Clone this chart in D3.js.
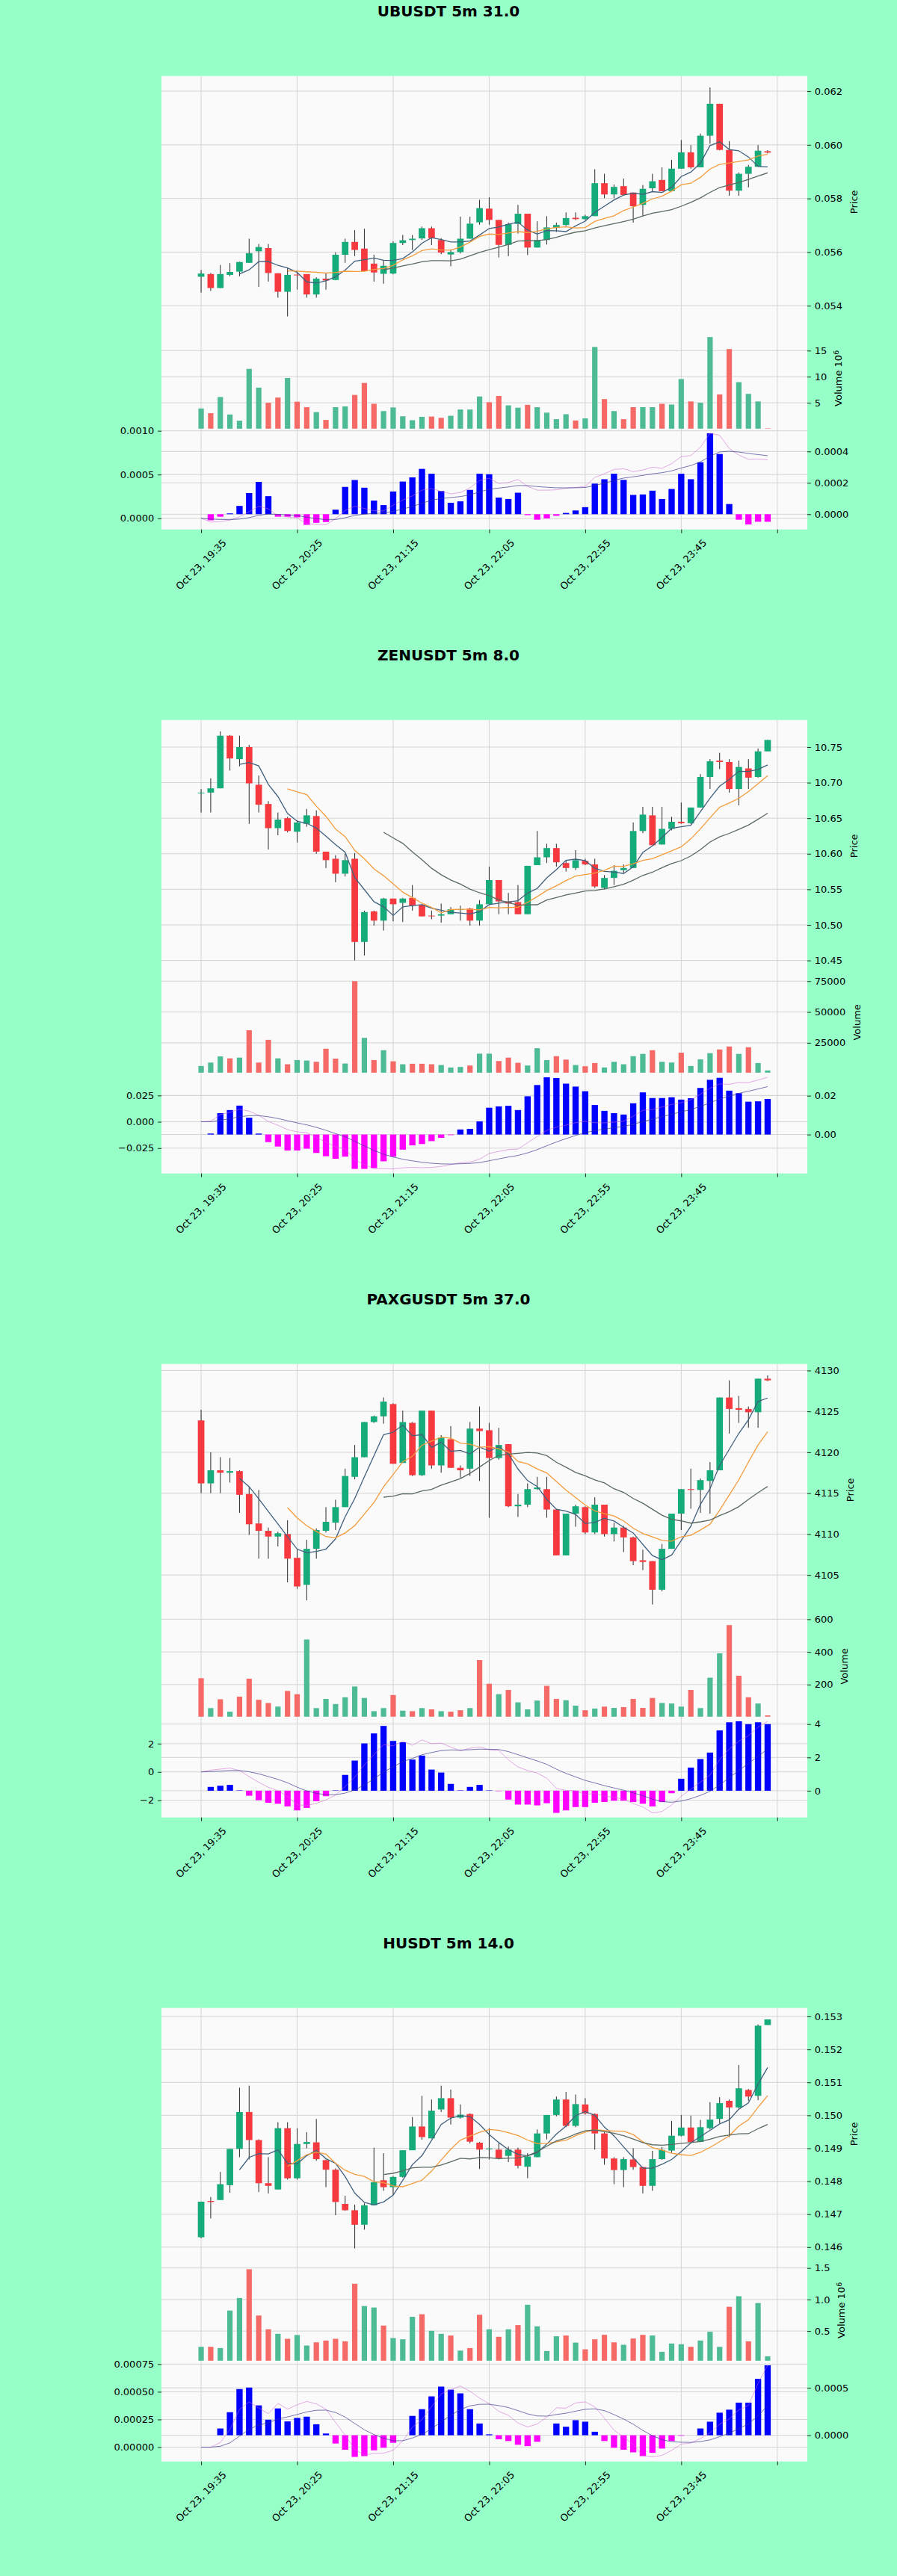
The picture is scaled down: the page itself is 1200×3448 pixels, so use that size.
<!DOCTYPE html>
<html>
<head>
<meta charset="utf-8">
<script src="https://cdn.jsdelivr.net/npm/d3@7"></script>
<style>
  body { margin: 0; background: #96ffc8; }
  svg { display: block; }
</style>
</head>
<body>
<div id="chart"></div>
<script>
/**************************************************************************************************/
// data: one row per 5m candle = [open, high, low, close]
const ubusdtOhlc = [
  [0.05508,0.05533,0.05449,0.05520],[0.05518,0.05522,0.05455,0.05466],[0.05466,0.05552,0.05466,0.05518],
  [0.05515,0.05559,0.05510,0.05526],[0.05527,0.05564,0.05510,0.05563],[0.05560,0.05650,0.05560,0.05596],
  [0.05603,0.05630,0.05470,0.05619],[0.05615,0.05630,0.05490,0.05522],[0.05521,0.05521,0.05430,0.05452],
  [0.05452,0.05540,0.05360,0.05515],[0.05516,0.05530,0.05460,0.05514],[0.05518,0.05518,0.05430,0.05442],
  [0.05442,0.05506,0.05430,0.05501],[0.05501,0.05520,0.05460,0.05494],[0.05496,0.05599,0.05495,0.05590],
  [0.05590,0.05650,0.05560,0.05638],[0.05638,0.05682,0.05585,0.05608],[0.05613,0.05687,0.05529,0.05529],
  [0.05557,0.05590,0.05490,0.05524],[0.05519,0.05570,0.05482,0.05549],[0.05520,0.05640,0.05517,0.05634],
  [0.05634,0.05664,0.05626,0.05644],[0.05645,0.05664,0.05608,0.05650],[0.05651,0.05695,0.05645,0.05689],
  [0.05689,0.05695,0.05626,0.05652],[0.05645,0.05652,0.05592,0.05598],[0.05591,0.05610,0.05547,0.05600],
  [0.05600,0.05732,0.05595,0.05650],[0.05650,0.05732,0.05650,0.05706],[0.05711,0.05795,0.05702,0.05764],
  [0.05762,0.05804,0.05702,0.05720],[0.05720,0.05720,0.05580,0.05627],[0.05627,0.05710,0.05585,0.05704],
  [0.05705,0.05776,0.05669,0.05743],[0.05743,0.05743,0.05589,0.05617],[0.05617,0.05715,0.05617,0.05645],
  [0.05645,0.05734,0.05628,0.05692],[0.05690,0.05710,0.05675,0.05701],[0.05701,0.05748,0.05697,0.05727],
  [0.05728,0.05748,0.05719,0.05723],[0.05723,0.05739,0.05719,0.05734],[0.05734,0.05909,0.05734,0.05857],
  [0.05857,0.05892,0.05801,0.05815],[0.05815,0.05852,0.05801,0.05843],[0.05846,0.05874,0.05813,0.05813],
  [0.05822,0.05822,0.05710,0.05771],[0.05776,0.05850,0.05734,0.05836],[0.05838,0.05892,0.05827,0.05864],
  [0.05869,0.05916,0.05827,0.05827],[0.05827,0.05944,0.05827,0.05911],[0.05911,0.06018,0.05911,0.05972],
  [0.05972,0.05999,0.05911,0.05916],[0.05916,0.06042,0.05916,0.06034],[0.06034,0.06214,0.06004,0.06153],
  [0.06153,0.06153,0.05979,0.05981],[0.05981,0.06014,0.05810,0.05829],[0.05829,0.05897,0.05810,0.05892],
  [0.05892,0.05925,0.05841,0.05918],[0.05918,0.05999,0.05918,0.05978],[0.05976,0.05980,0.05968,0.05971]
];
const ubusdtVolume = [3900000,3000000,6100000,2750000,1550000,11500000,7900000,5000000,6000000,9750000,
  5200000,4150000,3200000,1700000,4150000,4300000,6500000,8800000,4800000,3400000,
  4100000,2400000,1650000,2300000,2350000,2100000,2500000,3700000,3700000,6200000,
  5100000,6300000,4500000,4050000,4600000,4150000,3100000,1850000,2800000,1600000,
  2000000,15700000,5700000,3400000,1850000,4150000,4150000,4150000,4800000,4650000,
  9550000,5250000,5000000,17600000,6600000,15300000,8950000,6700000,5250000,80000];
const ubusdtHist = [0,-0.000039,-0.000016,0.000005,0.000053,0.000135,0.000206,0.000115,-0.000016,-0.000016,
  -0.00002,-0.000068,-0.000055,-0.00005,0.000029,0.000174,0.000218,0.000169,0.000087,0.000058,
  0.000145,0.000208,0.000235,0.000289,0.000258,0.000148,0.000073,0.000082,0.000155,0.000258,
  0.000255,0.000106,0.000097,0.000137,-0.000006,-0.000035,-0.000027,-0.00001,0.000008,0.000024,
  0.000045,0.000195,0.000223,0.000258,0.000219,0.000123,0.000126,0.00015,0.000097,0.000161,
  0.000258,0.000223,0.000331,0.000516,0.000384,0.000065,-0.000035,-0.000065,-0.000048,-0.000048];

const zenusdtOhlc = [
  [10.685,10.691,10.658,10.686],[10.686,10.706,10.658,10.692],[10.692,10.772,10.692,10.766],
  [10.766,10.767,10.717,10.734],[10.733,10.766,10.723,10.750],[10.750,10.753,10.642,10.699],
  [10.697,10.710,10.658,10.669],[10.670,10.674,10.606,10.636],[10.636,10.658,10.626,10.648],
  [10.650,10.652,10.630,10.632],[10.631,10.647,10.616,10.644],[10.642,10.663,10.638,10.654],
  [10.653,10.661,10.600,10.603],[10.603,10.603,10.580,10.591],[10.593,10.598,10.560,10.572],
  [10.572,10.600,10.568,10.591],[10.593,10.601,10.450,10.476],[10.476,10.520,10.457,10.518],
  [10.519,10.520,10.499,10.506],[10.506,10.538,10.492,10.537],[10.537,10.537,10.505,10.529],
  [10.531,10.538,10.504,10.537],[10.538,10.556,10.520,10.527],[10.528,10.529,10.512,10.512],
  [10.513,10.520,10.508,10.512],[10.513,10.530,10.503,10.515],[10.515,10.525,10.515,10.522],
  [10.521,10.527,10.506,10.522],[10.523,10.524,10.499,10.506],[10.506,10.535,10.499,10.529],
  [10.529,10.582,10.529,10.563],[10.563,10.563,10.515,10.533],[10.533,10.545,10.515,10.530],
  [10.532,10.556,10.515,10.515],[10.515,10.583,10.515,10.583],[10.584,10.632,10.584,10.595],
  [10.595,10.614,10.587,10.608],[10.608,10.614,10.582,10.588],[10.587,10.591,10.575,10.580],
  [10.580,10.605,10.577,10.591],[10.590,10.593,10.584,10.585],[10.585,10.593,10.552,10.554],
  [10.552,10.570,10.550,10.566],[10.566,10.584,10.556,10.576],[10.577,10.585,10.573,10.580],
  [10.580,10.644,10.580,10.632],[10.632,10.666,10.629,10.655],[10.654,10.666,10.612,10.612],
  [10.613,10.666,10.613,10.635],[10.635,10.652,10.633,10.645],[10.645,10.672,10.642,10.643],
  [10.643,10.665,10.642,10.665],[10.665,10.712,10.665,10.708],[10.708,10.733,10.691,10.730],
  [10.731,10.742,10.719,10.729],[10.729,10.733,10.686,10.691],[10.691,10.731,10.668,10.722],
  [10.720,10.733,10.691,10.707],[10.708,10.748,10.707,10.744],[10.744,10.760,10.744,10.760]
];
const zenusdtVolume = [6200,9000,14000,12400,13000,35200,9000,27400,12400,7600,
  11000,10600,9600,20200,12200,8200,75000,29000,11000,19000,
  10000,7600,8000,8000,7600,7000,5000,5400,6600,16200,
  16200,10200,13000,8800,6600,20600,11000,14200,11400,7000,
  6000,8600,5000,9600,7600,14200,16000,19000,9600,9000,
  17000,6200,11600,16600,19600,22000,16000,21400,8600,2600];
const zenusdtHist = [0,0.0005,0.011,0.0126,0.0149,0.0087,0.0005,-0.0039,-0.0062,-0.0082,
  -0.0082,-0.0073,-0.0095,-0.0112,-0.0125,-0.0114,-0.0177,-0.0177,-0.0173,-0.0138,
  -0.0114,-0.0078,-0.0056,-0.0049,-0.0034,-0.0017,-0.0003,0.0026,0.0029,0.0068,
  0.0138,0.0145,0.0148,0.0126,0.0197,0.0255,0.0295,0.0291,0.0262,0.0247,
  0.0223,0.0152,0.0122,0.011,0.0103,0.0161,0.0217,0.0188,0.0188,0.0192,
  0.018,0.0187,0.024,0.0282,0.0292,0.0226,0.0213,0.0169,0.0171,0.0183];

const paxgusdtOhlc = [
  [4123.9,4125.2,4115.0,4116.2],[4116.2,4120.0,4115.0,4117.8],[4117.8,4119.4,4115.0,4117.5],
  [4117.5,4119.3,4116.3,4117.7],[4117.7,4117.8,4112.6,4114.8],[4114.9,4115.7,4109.9,4111.2],
  [4111.3,4115.4,4107.0,4110.4],[4110.4,4110.8,4107.0,4109.7],[4109.7,4110.3,4108.5,4110.1],
  [4110.0,4111.7,4104.1,4107.0],[4107.1,4108.2,4103.3,4103.6],[4103.8,4109.3,4101.9,4108.2],
  [4108.2,4110.7,4107.0,4110.5],[4110.4,4113.3,4110.2,4111.5],[4111.4,4114.2,4110.5,4113.3],
  [4113.3,4118.0,4113.3,4117.1],[4117.0,4120.9,4116.7,4119.4],[4119.4,4123.7,4119.4,4123.7],
  [4123.7,4124.5,4123.6,4124.4],[4124.4,4126.7,4123.5,4126.2],[4125.9,4126.0,4118.6,4118.6],
  [4118.7,4125.1,4118.7,4123.7],[4123.6,4123.7,4117.1,4117.2],[4117.2,4125.1,4117.1,4125.1],
  [4125.1,4125.1,4118.0,4118.4],[4118.4,4122.1,4117.5,4121.8],[4121.6,4123.2,4118.1,4118.1],
  [4118.1,4118.4,4116.9,4117.8],[4118.0,4123.7,4117.1,4122.9],[4122.9,4125.6,4116.5,4122.6],
  [4122.7,4123.6,4112.0,4119.3],[4119.3,4123.0,4119.1,4120.9],[4121.0,4121.0,4113.3,4113.4],
  [4113.4,4114.9,4112.1,4113.6],[4113.6,4116.2,4113.3,4115.5],[4115.5,4117.0,4115.4,4115.7],
  [4115.5,4117.0,4112.0,4113.0],[4113.0,4113.1,4107.4,4107.4],[4107.4,4112.5,4107.4,4112.5],
  [4112.5,4113.6,4110.9,4113.4],[4113.3,4113.4,4110.0,4110.2],[4110.2,4114.5,4110.0,4113.6],
  [4113.6,4113.6,4109.7,4110.0],[4110.0,4111.4,4109.1,4110.8],[4110.8,4111.0,4107.8,4109.6],
  [4109.6,4109.7,4106.2,4106.7],[4106.8,4108.1,4105.6,4106.6],[4106.7,4106.7,4101.4,4103.2],
  [4103.2,4108.8,4103.0,4108.2],[4108.2,4112.5,4108.2,4112.5],[4112.5,4115.5,4110.5,4115.5],
  [4115.5,4118.0,4113.1,4115.4],[4115.4,4116.8,4112.6,4116.6],[4116.5,4118.8,4112.5,4117.8],
  [4117.8,4126.7,4117.8,4126.7],[4126.7,4128.8,4122.3,4125.3],[4125.4,4126.9,4123.6,4125.2],
  [4125.3,4125.6,4123.0,4124.9],[4124.9,4129.0,4123.0,4129.0],[4129.0,4129.4,4128.7,4128.8]
];
const paxgusdtVolume = [239,56,110,34,126,236,107,87,65,161,
  141,476,56,112,81,122,188,118,37,56,
  136,40,37,56,48,37,34,43,56,350,
  205,141,167,91,48,102,192,112,104,71,
  43,53,65,57,62,112,57,118,87,84,
  65,167,56,242,391,564,254,122,84,11];
const paxgusdtHist = [0,0.23,0.30,0.35,0.02,-0.30,-0.57,-0.72,-0.78,-0.94,
  -1.18,-1.03,-0.63,-0.33,0.02,0.95,1.81,2.84,3.44,3.89,
  2.99,2.91,1.87,2.11,1.27,1.09,0.41,0.02,0.23,0.35,
  0.02,-0.02,-0.53,-0.83,-0.83,-0.88,-0.75,-1.33,-1.18,-0.98,
  -0.98,-0.72,-0.68,-0.60,-0.60,-0.68,-0.78,-0.94,-0.68,-0.15,
  0.72,1.39,1.90,2.29,3.62,4.11,4.17,4.00,4.11,4.00];

const husdtOhlc = [
  [0.14630,0.14738,0.14627,0.14738],[0.14740,0.14752,0.14687,0.14737],[0.14743,0.14828,0.14743,0.14791],
  [0.14788,0.14898,0.14765,0.14898],[0.14898,0.15084,0.14873,0.15010],[0.15010,0.15090,0.14866,0.14925],
  [0.14925,0.14927,0.14767,0.14794],[0.14794,0.14873,0.14763,0.14786],[0.14775,0.14979,0.14775,0.14961],
  [0.14961,0.14979,0.14805,0.14809],[0.14809,0.14961,0.14805,0.14913],[0.14913,0.14949,0.14900,0.14919],
  [0.14918,0.14989,0.14862,0.14867],[0.14864,0.14866,0.14782,0.14835],[0.14835,0.14839,0.14697,0.14737],
  [0.14731,0.14756,0.14710,0.14712],[0.14712,0.14729,0.14596,0.14668],[0.14668,0.14733,0.14653,0.14727],
  [0.14727,0.14902,0.14727,0.14797],[0.14803,0.14885,0.14771,0.14782],[0.14782,0.14816,0.14758,0.14813],
  [0.14813,0.14894,0.14811,0.14894],[0.14894,0.14995,0.14894,0.14966],[0.14966,0.15059,0.14926,0.14934],
  [0.14930,0.15048,0.14930,0.15014],[0.15018,0.15090,0.15010,0.15052],[0.15052,0.15078,0.14972,0.14993],
  [0.14993,0.15033,0.14990,0.15002],[0.15004,0.15006,0.14915,0.14920],[0.14917,0.14919,0.14837,0.14896],
  [0.14897,0.14961,0.14866,0.14899],[0.14896,0.14915,0.14866,0.14869],[0.14877,0.14905,0.14858,0.14896],
  [0.14896,0.14902,0.14839,0.14847],[0.14844,0.14885,0.14809,0.14875],[0.14873,0.14957,0.14873,0.14945],
  [0.14945,0.15001,0.14927,0.15001],[0.15001,0.15057,0.14997,0.15048],[0.15048,0.15071,0.14964,0.14968],
  [0.14968,0.15063,0.14964,0.15034],[0.15033,0.15052,0.15002,0.15006],[0.15004,0.15006,0.14896,0.14945],
  [0.14945,0.14949,0.14850,0.14869],[0.14869,0.14873,0.14791,0.14834],[0.14834,0.14873,0.14782,0.14867],
  [0.14866,0.14900,0.14835,0.14843],[0.14843,0.14844,0.14763,0.14786],[0.14786,0.14892,0.14771,0.14867],
  [0.14867,0.14904,0.14865,0.14895],[0.14893,0.14983,0.14887,0.14938],[0.14938,0.15001,0.14936,0.14963],
  [0.14963,0.14999,0.14915,0.14919],[0.14919,0.14986,0.14919,0.14964],[0.14961,0.15040,0.14957,0.14987],
  [0.14989,0.15055,0.14976,0.15037],[0.15044,0.15048,0.14934,0.15024],[0.15024,0.15153,0.15021,0.15082],
  [0.15077,0.15080,0.15044,0.15057],[0.15059,0.15276,0.15046,0.15272],[0.15274,0.15291,0.15274,0.15291]
];
const husdtVolume = [250000,250000,230000,825000,1024000,1480000,746000,528000,456000,377000,
  437000,270000,321000,349000,377000,337000,1250000,897000,873000,587000,
  389000,369000,726000,766000,504000,456000,429000,190000,230000,758000,
  528000,409000,528000,595000,917000,575000,183000,417000,429000,317000,
  210000,369000,440000,321000,282000,381000,440000,429000,171000,302000,
  290000,250000,349000,488000,250000,885000,1052000,337000,944000,100000];
const husdtHist = [0,0,0.0000714,0.000243,0.000487,0.000503,0.000315,0.000164,0.000283,0.000146,
  0.000183,0.000196,0.000116,0.0000185,-0.0000873,-0.000153,-0.000228,-0.00022,-0.000159,-0.000132,
  -0.0000794,0,0.000204,0.000275,0.00041,0.000513,0.000481,0.000442,0.000275,0.000124,
  0.00001,-0.0000423,-0.0000608,-0.0001,-0.000114,-0.0000688,0,0.000124,0.00009,0.000159,
  0.000143,0.000037,-0.0000608,-0.000132,-0.000153,-0.00018,-0.00022,-0.000185,-0.00014,-0.0000608,
  -0.000005,0,0.0000714,0.000143,0.000238,0.00027,0.000344,0.000344,0.000595,0.000738];

// tick values / labels
const xTickIndex = [0, 10, 20, 30, 40, 50, 60];
const xTickLabels = ["Oct 23, 19:35", "Oct 23, 20:25", "Oct 23, 21:15", "Oct 23, 22:05", "Oct 23, 22:55", "Oct 23, 23:45", ""];
const ubusdtPriceTicks = [0.054, 0.056, 0.058, 0.060, 0.062];
const zenusdtPriceTicks = [10.45, 10.50, 10.55, 10.60, 10.65, 10.70, 10.75];
const paxgusdtPriceTicks = [4105, 4110, 4115, 4120, 4125, 4130];
const husdtPriceTicks = [0.146, 0.147, 0.148, 0.149, 0.150, 0.151, 0.152, 0.153];
const ubusdtVolumeTicks = [5e6, 10e6, 15e6];
const zenusdtVolumeTicks = [25000, 50000, 75000];
const paxgusdtVolumeTicks = [200, 400, 600];
const husdtVolumeTicks = [0.5e6, 1.0e6, 1.5e6];
const ubusdtHistTicks = [0, 0.0002, 0.0004];
const zenusdtHistTicks = [0, 0.02];
const paxgusdtHistTicks = [0, 2, 4];
const husdtHistTicks = [0, 0.0005];
const ubusdtMacdTicks = [0, 0.0005, 0.0010];
const zenusdtMacdTicks = [-0.025, 0, 0.025];
const paxgusdtMacdTicks = [-2, 0, 2];
const husdtMacdTicks = [0, 0.00025, 0.0005, 0.00075];
const mavWindows = [5, 10, 20];
/**************************************************************************************************/

const panels = [
  { title: "UBUSDT 5m 31.0", ohlc: ubusdtOhlc, volume: ubusdtVolume, hist: ubusdtHist,
    priceTicks: ubusdtPriceTicks, priceFmt: ".3f", volTicks: ubusdtVolumeTicks, volExp: 6, volFmt: "d",
    histTicks: ubusdtHistTicks, histFmt: ".4f", macdTicks: ubusdtMacdTicks, macdFmt: ".4f" },
  { title: "ZENUSDT 5m 8.0", ohlc: zenusdtOhlc, volume: zenusdtVolume, hist: zenusdtHist,
    priceTicks: zenusdtPriceTicks, priceFmt: ".2f", volTicks: zenusdtVolumeTicks, volExp: 0, volFmt: "d",
    histTicks: zenusdtHistTicks, histFmt: ".2f", macdTicks: zenusdtMacdTicks, macdFmt: ".3f" },
  { title: "PAXGUSDT 5m 37.0", ohlc: paxgusdtOhlc, volume: paxgusdtVolume, hist: paxgusdtHist,
    priceTicks: paxgusdtPriceTicks, priceFmt: "d", volTicks: paxgusdtVolumeTicks, volExp: 0, volFmt: "d",
    histTicks: paxgusdtHistTicks, histFmt: "d", macdTicks: paxgusdtMacdTicks, macdFmt: "d" },
  { title: "HUSDT 5m 14.0", ohlc: husdtOhlc, volume: husdtVolume, hist: husdtHist,
    priceTicks: husdtPriceTicks, priceFmt: ".3f", volTicks: husdtVolumeTicks, volExp: 6, volFmt: ".1f",
    histTicks: husdtHistTicks, histFmt: ".4f", macdTicks: husdtMacdTicks, macdFmt: ".5f" }
];

// layout
const W = 1200, H = 3448;
const PITCH = 862;
const AX_LEFT = 216, AX_RIGHT = 1080;
const TOP0 = 101.7, PRICE_H = 337.2, SUB_H = 134.9;
const TICK = 4.9;
const FONT = "DejaVu Sans, Liberation Sans, sans-serif";

const colors = {
  fig: "#96ffc8", axes: "#fafafa", grid: "#d4d4d4",
  up: "#16ab7b", down: "#f6393f", wick: "#2a2a2a",
  volUp: "#4dbb93", volDown: "#f56a66",
  histUp: "#0000ff", histDown: "#ff00ff",
  mav: ["#41607e", "#f39c3c", "#5a6a60"],
  macd: "#cf62cf", signal: "#34348c"
};

/**************************************************************************************************/
function rolling(values, w) {
  return values.map((v, i) => i < w - 1 ? null : d3.mean(values.slice(i - w + 1, i + 1)));
}
function ema(values, span) {
  const a = 2 / (span + 1);
  const out = [];
  values.forEach((v, i) => out.push(i === 0 ? v : a * v + (1 - a) * out[i - 1]));
  return out;
}
function padded(lo, hi) {
  const m = (hi - lo) * 0.05;
  return [lo - m, hi + m];
}
function inDomain(scale, t) {
  const [a, b] = scale.domain();
  const eps = (b - a) * 1e-6;
  return t >= a - eps && t <= b + eps;
}
function styleAxis(g) {
  g.attr("font-family", FONT).attr("font-size", 13);
  g.select(".domain").remove();
  g.selectAll(".tick line").attr("stroke", "#222");
  g.selectAll(".tick text").attr("fill", "#000");
}
/**************************************************************************************************/

const svg = d3.select("#chart").append("svg")
  .attr("width", W).attr("height", H)
  .attr("viewBox", [0, 0, W, H])
  .attr("font-family", FONT);

svg.append("rect").attr("width", W).attr("height", H).attr("fill", colors.fig);

const n = ubusdtOhlc.length;
const x = d3.scaleLinear()
  .domain([-(n - 1) * 0.07, (n - 1) * 1.07])
  .range([AX_LEFT, AX_RIGHT]);
const step = x(1) - x(0);

function drawPanel(p, k) {
  const top = TOP0 + k * PITCH;
  const priceBottom = top + PRICE_H;
  const volBottom = priceBottom + SUB_H;
  const macdBottom = volBottom + SUB_H;

  const closes = p.ohlc.map(d => d[3]);
  const macd = ema(closes, 12).map((v, i) => v - ema(closes, 26)[i]);
  const signal = ema(macd, 9);

  const yPrice = d3.scaleLinear()
    .domain(padded(d3.min(p.ohlc, d => d[2]), d3.max(p.ohlc, d => d[1])))
    .range([priceBottom, top]);
  const yVol = d3.scaleLinear()
    .domain([0.3 * d3.min(p.volume), 1.1 * d3.max(p.volume)])
    .range([volBottom, priceBottom]);
  const yHist = d3.scaleLinear()
    .domain(padded(Math.min(0, d3.min(p.hist)), Math.max(0, d3.max(p.hist))))
    .range([macdBottom, volBottom]);
  const yMacd = d3.scaleLinear()
    .domain(padded(d3.min(macd.concat(signal)), d3.max(macd.concat(signal))))
    .range([macdBottom, volBottom]);

  // title
  svg.append("text")
    .attr("x", W / 2)
    .attr("y", 22 + k * PITCH)
    .attr("text-anchor", "middle")
    .attr("font-weight", "bold")
    .attr("font-size", 20)
    .attr("fill", "#000")
    .text(p.title);

  const g = svg.append("g");
  g.append("rect")
    .attr("x", AX_LEFT).attr("y", top)
    .attr("width", AX_RIGHT - AX_LEFT).attr("height", macdBottom - top)
    .attr("fill", colors.axes);

  // grid
  const grid = g.append("g").attr("stroke", colors.grid).attr("stroke-width", 1);
  grid.selectAll("line.v").data(xTickIndex).join("line").attr("class", "v")
    .attr("x1", d => x(d)).attr("x2", d => x(d))
    .attr("y1", top).attr("y2", macdBottom);
  [[yPrice, p.priceTicks], [yVol, p.volTicks], [yHist, p.histTicks], [yMacd, p.macdTicks]]
    .forEach(([s, ticks]) => {
      grid.append("g").selectAll("line").data(ticks.filter(t => inDomain(s, t))).join("line")
        .attr("x1", AX_LEFT).attr("x2", AX_RIGHT)
        .attr("y1", d => s(d)).attr("y2", d => s(d));
    });

  // candles
  const isUp = d => d[3] >= d[0];
  const cw = step * 0.68;
  g.append("g").selectAll("line").data(p.ohlc).join("line")
    .attr("x1", (d, i) => x(i)).attr("x2", (d, i) => x(i))
    .attr("y1", d => yPrice(d[1])).attr("y2", d => yPrice(d[2]))
    .attr("stroke", colors.wick).attr("stroke-width", 1);
  g.append("g").selectAll("rect").data(p.ohlc).join("rect")
    .attr("x", (d, i) => x(i) - cw / 2)
    .attr("width", cw)
    .attr("y", d => yPrice(Math.max(d[0], d[3])))
    .attr("height", d => Math.max(1, Math.abs(yPrice(d[0]) - yPrice(d[3]))))
    .attr("fill", d => isUp(d) ? colors.up : colors.down);

  // moving averages
  mavWindows.forEach((w, j) => {
    g.append("path")
      .datum(rolling(closes, w))
      .attr("fill", "none")
      .attr("stroke", colors.mav[j])
      .attr("stroke-width", 1.3)
      .attr("d", d3.line().defined(v => v != null).x((v, i) => x(i)).y(v => yPrice(v)));
  });

  // volume
  const vw = step * 0.56;
  g.append("g").selectAll("rect").data(p.volume).join("rect")
    .attr("x", (v, i) => x(i) - vw / 2)
    .attr("width", vw)
    .attr("y", v => yVol(v))
    .attr("height", v => Math.max(0.5, volBottom - yVol(v)))
    .attr("fill", (v, i) => isUp(p.ohlc[i]) ? colors.volUp : colors.volDown);

  // macd histogram
  const hw = step * 0.65;
  g.append("g").selectAll("rect").data(p.hist).join("rect")
    .attr("x", (v, i) => x(i) - hw / 2)
    .attr("width", hw)
    .attr("y", v => yHist(Math.max(0, v)))
    .attr("height", v => Math.abs(yHist(v) - yHist(0)))
    .attr("fill", v => v >= 0 ? colors.histUp : colors.histDown);

  // macd / signal lines
  [[macd, colors.macd, 0.6], [signal, colors.signal, 0.75]].forEach(([vals, c, op]) => {
    g.append("path")
      .datum(vals)
      .attr("fill", "none")
      .attr("stroke", c)
      .attr("stroke-opacity", op)
      .attr("stroke-width", 0.9)
      .attr("d", d3.line().x((v, i) => x(i)).y(v => yMacd(v)));
  });

  // right axes
  const rightAxis = (s, ticks, fmt) => {
    const a = g.append("g")
      .attr("transform", `translate(${AX_RIGHT},0)`)
      .call(d3.axisRight(s).tickValues(ticks.filter(t => inDomain(s, t)))
        .tickFormat(fmt).tickSize(TICK).tickPadding(TICK));
    styleAxis(a);
    return a;
  };
  const priceAxis = rightAxis(yPrice, p.priceTicks, d3.format(p.priceFmt));
  const volAxis = rightAxis(yVol, p.volTicks, v => d3.format(p.volFmt)(v / Math.pow(10, p.volExp)));
  rightAxis(yHist, p.histTicks, d3.format(p.histFmt));

  // left axis (macd lines)
  const left = g.append("g")
    .attr("transform", `translate(${AX_LEFT},0)`)
    .call(d3.axisLeft(yMacd).tickValues(p.macdTicks.filter(t => inDomain(yMacd, t)))
      .tickFormat(d3.format(p.macdFmt)).tickSize(TICK).tickPadding(TICK));
  styleAxis(left);

  // y labels
  const yLabel = (axisG, cy) => {
    const b = axisG.node().getBBox();
    const lx = AX_RIGHT + b.x + b.width + 19.5;
    return g.append("text")
      .attr("transform", `translate(${lx},${cy}) rotate(-90)`)
      .attr("text-anchor", "middle")
      .attr("font-size", 13)
      .attr("fill", "#000");
  };
  yLabel(priceAxis, (top + priceBottom) / 2).text("Price");
  const vl = yLabel(volAxis, (priceBottom + volBottom) / 2);
  vl.append("tspan").text(p.volExp ? "Volume  10" : "Volume");
  if (p.volExp) {
    vl.append("tspan").attr("dy", "-0.45em").attr("font-size", 9.5).text(p.volExp);
  }

  // x axis
  const xa = g.append("g")
    .attr("transform", `translate(0,${macdBottom})`)
    .call(d3.axisBottom(x).tickValues(xTickIndex).tickFormat("").tickSize(TICK));
  styleAxis(xa);
  g.append("g").selectAll("text").data(xTickIndex).join("text")
    .attr("transform", d => `translate(${x(d)},${macdBottom + 47}) rotate(-45)`)
    .attr("text-anchor", "middle")
    .attr("dy", "0.35em")
    .attr("font-size", 13)
    .attr("fill", "#000")
    .text((d, i) => xTickLabels[i]);
}

panels.forEach(drawPanel);
</script>
</body>
</html>
